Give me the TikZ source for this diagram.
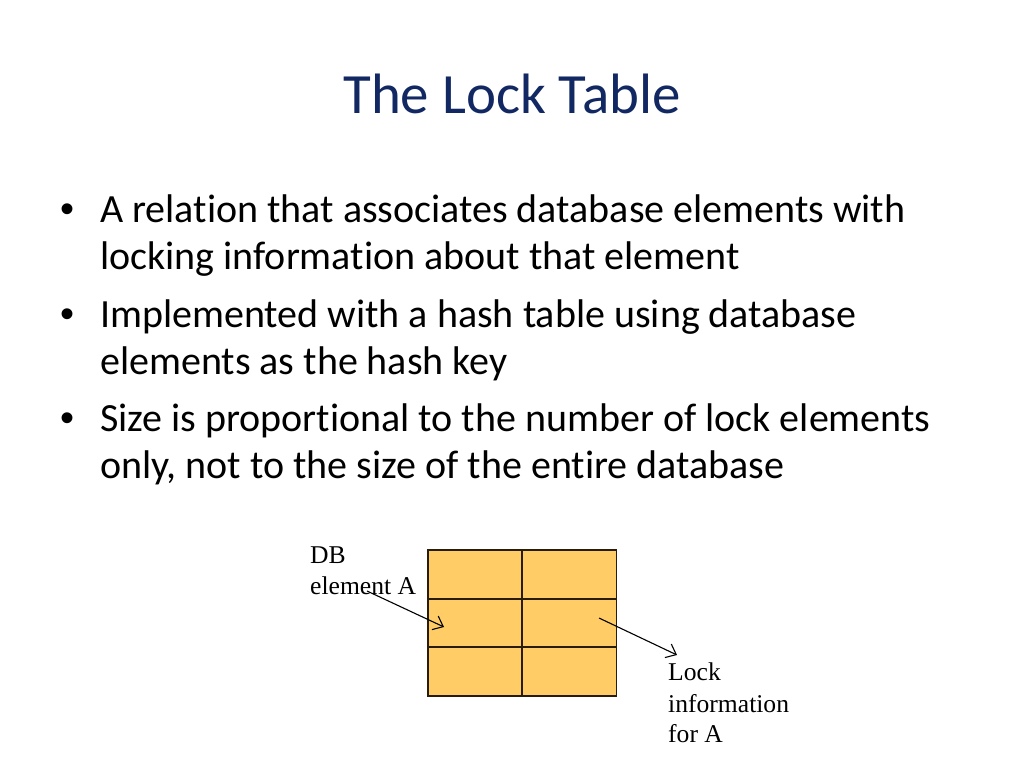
\documentclass[tikz,border=0pt]{standalone}
\usepackage{fontspec}
\setmainfont{Carlito}[RawFeature=-liga]
\newfontfamily\serifface{Liberation Serif}
\newfontfamily\bulletface{Liberation Sans}
\usetikzlibrary{arrows.meta}
\definecolor{titleblue}{RGB}{18,40,98}
\definecolor{cellfill}{RGB}{255,204,102}
\definecolor{cellline}{RGB}{40,28,12}
\tikzset{
  titletext/.style={inner sep=0pt, anchor=base, text=titleblue, font=\fontsize{56.9}{68}\selectfont},
  bodytext/.style={inner sep=0pt, anchor=base west, font=\fontsize{40}{47}\selectfont},
  bulletmark/.style={inner sep=0pt, anchor=base, font=\bulletface\fontsize{40}{47}\selectfont},
  labeltext/.style={inner sep=0pt, anchor=base west, font=\serifface\fontsize{25.6}{31}\selectfont},
  cell/.style={fill=cellfill, minimum width=94pt, minimum height=48.5pt, inner sep=0pt, anchor=north west},
  cellborder/.style={draw=cellline, line width=1.8pt},
  pointer/.style={line width=1.1pt, -{Straight Barb[length=9pt,width=15pt]}}
}
\begin{document}
\begin{tikzpicture}[x=1pt,y=-1pt]
\useasboundingbox[fill=white] (0,0) rectangle (1024,768);
\node[titletext] (title) at (512,113) {The Lock Table};
% bullets
\node[bulletmark] (b1) at (68,222) {•};
\node[bodytext] (l1a) at (100,222) {A relation that associates database elements with};
\node[bodytext] (l1b) at (100,269) {locking information about that element};
\node[bulletmark] (b2) at (68,327) {•};
\node[bodytext] (l2a) at (100,327) {Implemented with a hash table using database};
\node[bodytext] (l2b) at (100,374) {elements as the hash key};
\node[bulletmark] (b3) at (68,431) {•};
\node[bodytext] (l3a) at (100,431) {Size is proportional to the number of lock elements};
\node[bodytext] (l3b) at (100,478) {only, not to the size of the entire database};
% table
\node[cell] (c11) at (428,550) {};
\node[cell] (c12) at (522,550) {};
\node[cell] (c21) at (428,598.5) {};
\node[cell] (c22) at (522,598.5) {};
\node[cell] (c31) at (428,647) {};
\node[cell] (c32) at (522,647) {};
\foreach \c in {c11,c12,c21,c22,c31,c32}
  \draw[cellborder] (\c.north west) rectangle (\c.south east);
% labels
\node[labeltext] (db1) at (310,563) {DB};
\node[labeltext] (db2) at (310,594) {element A};
\node[labeltext] (li1) at (668,680) {Lock};
\node[labeltext] (li2) at (668,712) {information};
\node[labeltext] (li3) at (668,742) {for A};
% arrows
\coordinate (s1) at (367,591);
\coordinate (e1) at (444,627);
\coordinate (s2) at (599,618);
\coordinate (e2) at (677,655);
\draw[pointer] (s1) -- (e1);
\draw[pointer] (s2) -- (e2);
\end{tikzpicture}
\end{document}
